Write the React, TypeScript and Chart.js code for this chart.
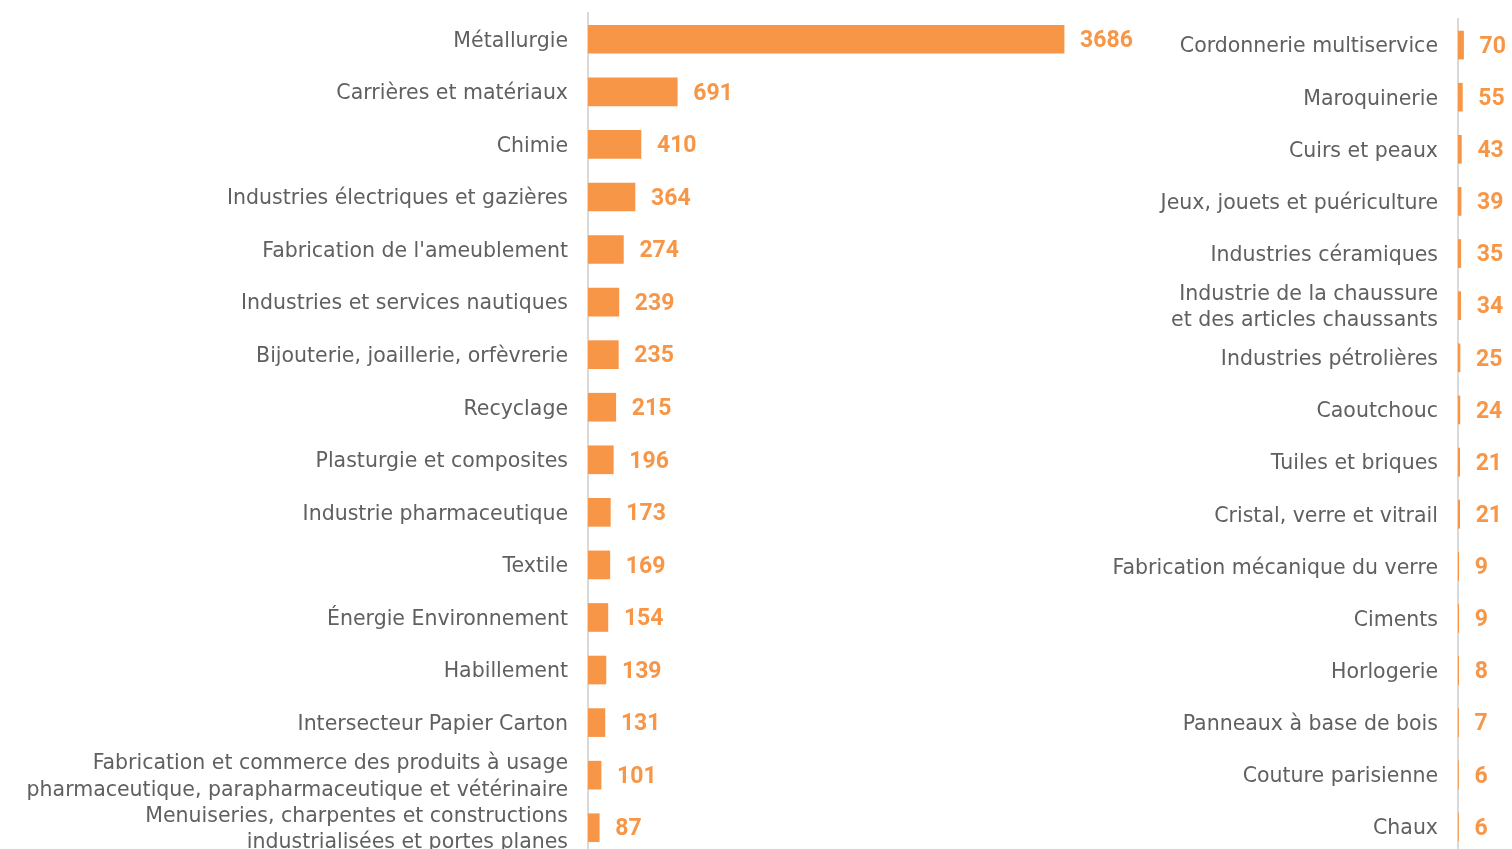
import React, { useEffect, useRef } from "react";
import { Chart, registerables } from "chart.js";

Chart.register(...registerables);

const leftLabels: (string | string[])[] = [
  "Métallurgie",
  "Carrières et matériaux",
  "Chimie",
  "Industries électriques et gazières",
  "Fabrication de l'ameublement",
  "Industries et services nautiques",
  "Bijouterie, joaillerie, orfèvrerie",
  "Recyclage",
  "Plasturgie et composites",
  "Industrie pharmaceutique",
  "Textile",
  "Énergie Environnement",
  "Habillement",
  "Intersecteur Papier Carton",
  ["Fabrication et commerce des produits à usage", "pharmaceutique, parapharmaceutique et vétérinaire"],
  ["Menuiseries, charpentes et constructions", "industrialisées et portes planes"],
];
const leftValues = [3686, 691, 410, 364, 274, 239, 235, 215, 196, 173, 169, 154, 139, 131, 101, 87];

const rightLabels: (string | string[])[] = [
  "Cordonnerie multiservice",
  "Maroquinerie",
  "Cuirs et peaux",
  "Jeux, jouets et puériculture",
  "Industries céramiques",
  ["Industrie de la chaussure", "et des articles chaussants"],
  "Industries pétrolières",
  "Caoutchouc",
  "Tuiles et briques",
  "Cristal, verre et vitrail",
  "Fabrication mécanique du verre",
  "Ciments",
  "Horlogerie",
  "Panneaux à base de bois",
  "Couture parisienne",
  "Chaux",
];
const rightValues = [70, 55, 43, 39, 35, 34, 25, 24, 21, 21, 9, 9, 8, 7, 6, 6];

const ORANGE = "#F79646";
const LABEL_FONT = "DejaVu Sans";

const valueLabelsPlugin = {
  id: "valueLabels",
  afterDatasetsDraw(chart: any) {
    const { ctx } = chart;
    const meta = chart.getDatasetMeta(0);
    const data = chart.data.datasets[0].data;
    ctx.save();
    ctx.font = "bold 23px Roboto";
    ctx.fillStyle = ORANGE;
    ctx.textAlign = "left";
    ctx.textBaseline = "middle";
    meta.data.forEach((bar: any, i: number) => {
      ctx.fillText(String(data[i]), bar.x + 16, bar.y + 2);
    });
    ctx.restore();
  },
};

function makeConfig(labels: any[], values: number[], max: number, axisWidth: number, padTop: number, padBottom: number): any {
  return {
    type: "bar",
    data: {
      labels,
      datasets: [
        {
          data: values,
          backgroundColor: ORANGE,
          barThickness: 28,
          borderWidth: 0,
        },
      ],
    },
    options: {
      indexAxis: "y",
      animation: false,
      responsive: false,
      maintainAspectRatio: false,
      layout: { padding: { top: padTop, bottom: padBottom, left: 0, right: 0 } },
      plugins: { legend: { display: false }, tooltip: { enabled: false } },
      scales: {
        x: { display: false, min: 0, max },
        y: {
          afterFit(scale: any) {
            scale.width = axisWidth;
            scale.paddingTop = 0;
            scale.paddingBottom = 0;
          },
          grid: { display: false, drawTicks: false },
          border: { display: true, color: "#D9D9D9", width: 2 },
          ticks: {
            autoSkip: false,
            padding: 20,
            labelOffset: 2,
            color: "#606060",
            font: { family: LABEL_FONT, size: 20.5, lineHeight: 1.28 },
          },
        },
      },
    },
    plugins: [valueLabelsPlugin],
  };
}

function BarPanel(props: { labels: any[]; values: number[]; max: number; width: number; height: number; axisWidth: number; padTop: number; padBottom: number; left: number }) {
  const ref = useRef<HTMLCanvasElement>(null);
  useEffect(() => {
    if (!ref.current) return;
    const chart = new Chart(ref.current, makeConfig(props.labels, props.values, props.max, props.axisWidth, props.padTop, props.padBottom));
    return () => chart.destroy();
  }, []);
  return (
    <canvas
      ref={ref}
      width={props.width}
      height={props.height}
      style={{ position: "absolute", left: props.left, top: 0, width: props.width, height: props.height }}
    />
  );
}

export default function App() {
  return (
    <div style={{ position: "fixed", left: 0, top: 0, width: 1512, height: 849, overflow: "hidden", background: "#fff" }}>
      <BarPanel labels={leftLabels} values={leftValues} max={4274} width={1140} height={860} axisWidth={588} padTop={13} padBottom={6} left={0} />
      <BarPanel labels={rightLabels} values={rightValues} max={680} width={422} height={860} axisWidth={368} padTop={19} padBottom={7} left={1090} />
    </div>
  );
}
